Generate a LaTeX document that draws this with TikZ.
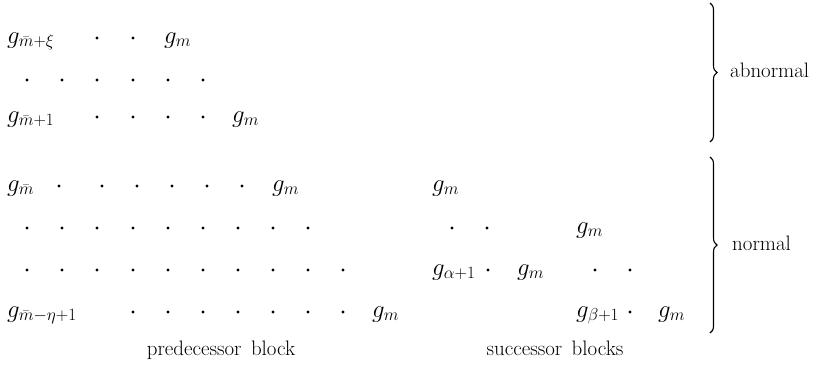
\documentclass[tikz,border=0pt]{standalone}
\usetikzlibrary{decorations.pathreplacing}
\DeclareMathSizes{29}{29}{16}{12}
\tikzset{
  gnode/.style={anchor=base west,inner sep=0pt,font=\fontsize{29}{33}\selectfont},
  lbl/.style={anchor=base,inner sep=0pt,font=\fontsize{21}{25}\selectfont},
  sidelbl/.style={anchor=base west,inner sep=0pt,font=\fontsize{21}{25}\selectfont},
  pt/.style={circle,fill=black,inner sep=0pt,minimum size=3.4bp},
  bracestyle/.style={decorate,decoration={brace,amplitude=7bp},line width=1.1bp}
}
\begin{document}
\begin{tikzpicture}[x=1bp,y=-1bp]
\useasboundingbox (0,0) rectangle (821,370);
% row 1
\node[gnode] (r1a) at (7,43) {$g_{\bar m+\xi}$};
\foreach \x [count=\i] in {97,133} \node[pt] (r1d\i) at (\x,38) {};
\node[gnode] (r1b) at (164,43) {$g_m$};
% row 2
\foreach \x [count=\i] in {27,62,97,133,168,203} \node[pt] (r2d\i) at (\x,80) {};
% row 3
\node[gnode] (r3a) at (7,122) {$g_{\bar m+1}$};
\foreach \x [count=\i] in {97,133,168,203} \node[pt] (r3d\i) at (\x,117) {};
\node[gnode] (r3b) at (232,122) {$g_m$};
% row 4
\node[gnode] (r4a) at (7,191) {$g_{\bar m}$};
\foreach \x [count=\i] in {59,102,137,172,207,242} \node[pt] (r4d\i) at (\x,186) {};
\node[gnode] (r4b) at (272,191) {$g_m$};
\node[gnode] (r4c) at (432,191) {$g_m$};
% row 5
\foreach \x [count=\i] in {27,62,97,133,168,203,238,273,308,452,487} \node[pt] (r5d\i) at (\x,228) {};
\node[gnode] (r5b) at (576,233) {$g_m$};
% row 6
\foreach \x [count=\i] in {27,62,97,133,168,203,238,273,308,343,488,595,630} \node[pt] (r6d\i) at (\x,270) {};
\node[gnode] (r6a) at (432,275) {$g_{\alpha+1}$};
\node[gnode] (r6b) at (517,275) {$g_m$};
% row 7
\node[gnode] (r7a) at (7,317) {$g_{\bar m-\eta+1}$};
\foreach \x [count=\i] in {133,168,203,238,273,308,343,630} \node[pt] (r7d\i) at (\x,312) {};
\node[gnode] (r7b) at (372,317) {$g_m$};
\node[gnode] (r7c) at (576,317) {$g_{\beta+1}$};
\node[gnode] (r7e) at (658,317) {$g_m$};
% labels
\node[lbl] (pred) at (221,355) {predecessor\hspace{0.45em}block};
\node[lbl] (succ) at (555,355) {successor\hspace{0.45em}blocks};
% braces
\coordinate (ab1) at (710,3);
\coordinate (ab2) at (710,142);
\coordinate (no1) at (710,157);
\coordinate (no2) at (710,333);
\draw[bracestyle] (ab1) -- (ab2);
\draw[bracestyle] (no1) -- (no2);
\node[sidelbl] (abn) at (730,77) {abnormal};
\node[sidelbl] (nor) at (732,250) {normal};
\end{tikzpicture}
\end{document}
